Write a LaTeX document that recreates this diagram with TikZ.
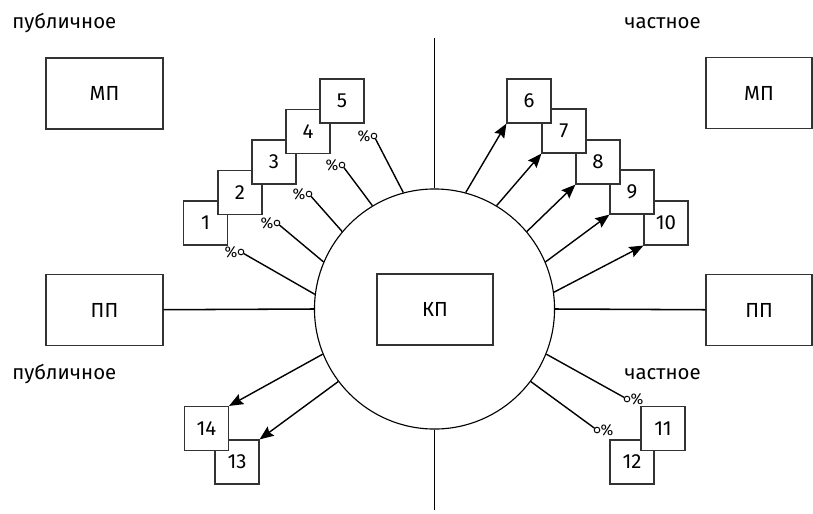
\documentclass[tikz,border=0pt]{standalone}
\usepackage{fontspec}
\setmainfont{Fira Sans}
\usetikzlibrary{positioning}
\usetikzlibrary{arrows.meta}

\begin{document}
\begin{tikzpicture}[x=0.025cm, y=-0.025cm,
  every node/.style={font=\fontsize{14.5}{17}\selectfont},
  blok/.style={draw=black!80, line width=0.8pt, fill=white, minimum width=2.925cm, minimum height=1.775cm},
  nomer/.style={draw=black!80, line width=0.8pt, fill=white, minimum size=1.1cm, inner sep=0pt},
  podpis/.style={inner sep=0pt, anchor=base west},
  kolco/.style={draw, circle, line width=0.7pt, minimum size=4pt, inner sep=0pt},
  proc/.style={font=\fontsize{11}{11}\selectfont, inner sep=0pt}]
            \useasboundingbox (0,0) rectangle (813,513);
            % Узлы
            \node[draw, circle, line width=0.8pt, minimum size=6cm] (krug) at (434.5,309) {};
            \node[blok, minimum width=2.9cm] (kp) at (435,309.5) {КП};
            \node[blok] (mpl) at (104.5,93.5) {МП};
            \node[blok] (ppl) at (104.5,310) {ПП};
            \node[blok, minimum width=2.65cm] (mpp) at (759,93) {МП};
            \node[blok, minimum width=2.65cm] (ppp) at (759,310) {ПП};
            \coordinate (verh) at (434.5,38);
            \coordinate (niz) at (434.5,510);

            \node[podpis] (pub1) at (12,28) {публичное};
            \node[podpis] (chs1) at (624,28) {частное};
            \node[podpis] (pub2) at (12,379) {публичное};
            \node[podpis] (chs2) at (624,379) {частное};

            \node[nomer] (b1) at (205.5,223) {1};
            \node[nomer] (b2) at (240,192.5) {2};
            \node[nomer] (b3) at (274,162) {3};
            \node[nomer] (b4) at (308,131.5) {4};
            \node[nomer] (b5) at (342,101) {5};

            \node[nomer] (b10) at (666,223) {10};
            \node[nomer] (b9) at (632,192) {9};
            \node[nomer] (b8) at (598,162) {8};
            \node[nomer] (b7) at (564,131) {7};
            \node[nomer] (b6) at (529,101) {6};

            \node[nomer] (b12) at (632,462) {12};
            \node[nomer] (b11) at (663,428.5) {11};
            \node[nomer] (b13) at (237,462) {13};
            \node[nomer] (b14) at (206.5,428.5) {14};

            \node[kolco] (o1) at (241,252) {};
            \node[kolco] (o2) at (277,223) {};
            \node[kolco] (o3) at (309,194) {};
            \node[kolco] (o4) at (342,165) {};
            \node[kolco] (o5) at (374,136) {};
            \node[kolco] (o11) at (627,399) {};
            \node[kolco] (o12) at (597,430) {};
            \foreach \k in {1,...,5}
              \node[proc, left=0pt of o\k] {\%};
            \node[proc, right=0pt of o11] {\%};
            \node[proc, right=0pt of o12] {\%};

            % Связи
            \draw[line width=1.1pt] (verh) -- (krug.north);
            \draw[line width=1.1pt] (krug.south) -- (niz);
            \draw[line width=1.1pt] (ppl) -- (krug.west);
            \draw[line width=1.1pt] (ppp) -- (krug.east);

            \draw[line width=1pt] (krug.173) -- (o1);
            \draw[line width=1pt] (krug.157) -- (o2);
            \draw[line width=1pt] (krug.140) -- (o3);
            \draw[line width=1pt] (krug.121) -- (o4);
            \draw[line width=1pt] (krug.105) -- (o5);
            \draw[line width=1pt] (krug.338) -- (o11);
            \draw[line width=1pt] (krug.323) -- (o12);

            \draw[-{Stealth[length=10pt,width=8pt,inset=1.5pt]}, line width=1pt] (krug.75) -- (b6.south west);
            \draw[-{Stealth[length=10pt,width=8pt,inset=1.5pt]}, line width=1pt] (krug.59) -- (b7.south west);
            \draw[-{Stealth[length=10pt,width=8pt,inset=1.5pt]}, line width=1pt] (krug.40) -- (b8.south west);
            \draw[-{Stealth[length=10pt,width=8pt,inset=1.5pt]}, line width=1pt] (krug.23) -- (b9.south west);
            \draw[-{Stealth[length=10pt,width=8pt,inset=1.5pt]}, line width=1pt] (krug.8) -- (b10.south west);
            \draw[-{Stealth[length=10pt,width=8pt,inset=1.5pt]}, line width=1pt] (krug.202) -- (b14.north east);
            \draw[-{Stealth[length=10pt,width=8pt,inset=1.5pt]}, line width=1pt] (krug.217) -- (b13.north east);
          \end{tikzpicture}
\end{document}
